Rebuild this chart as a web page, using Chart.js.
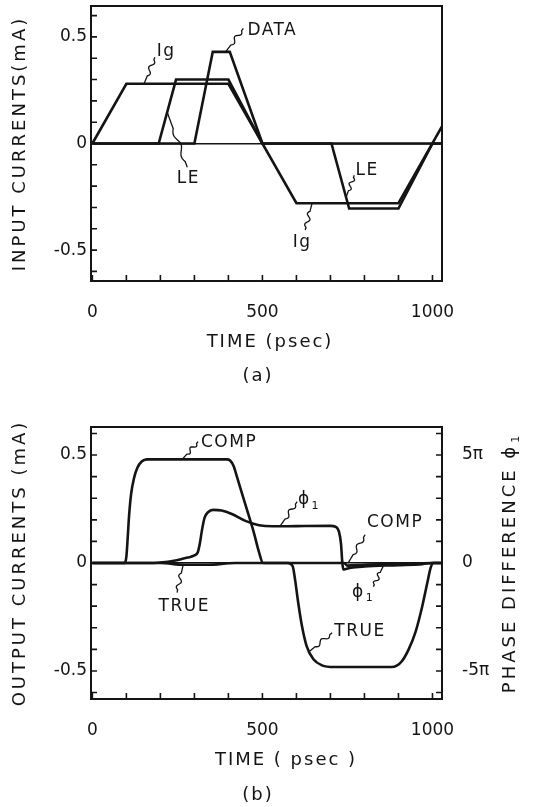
<!DOCTYPE html>
<html>
<head>
<meta charset="utf-8">
<script src="https://cdn.jsdelivr.net/npm/chart.js@4.4.0/dist/chart.umd.min.js"></script>
<style>
  html, body { margin: 0; padding: 0; background: #fff; }
  #wrap { position: relative; width: 554px; height: 807px; }
  canvas { position: absolute; left: 0; }
  #c1 { top: 0; }
  #c2 { top: 400px; }
</style>
</head>
<body>
<div id="wrap">
  <canvas id="c1" width="554" height="400"></canvas>
  <canvas id="c2" width="554" height="407"></canvas>
</div>
<script>
// ── DATA ─────────────────────────────────────────────
// (a) input currents (mA) vs time (psec)
const igT   = [0, 100, 400, 600, 900, 1028];
const igV   = [0, 0.28, 0.28, -0.28, -0.28, 0.08];
const leT   = [0, 195, 246, 400, 500, 703, 755, 900, 1000, 1028];
const leV   = [0, 0, 0.30, 0.30, 0, 0, -0.305, -0.305, 0, 0];
const dataT = [0, 300, 354, 404, 500, 1028];
const dataV = [0, 0, 0.43, 0.43, 0, 0];

// (b) output currents (mA) and phase difference (units of pi)
const compT = [0, 95, 100, 104, 108, 114, 122, 132, 145, 160, 300, 395, 405, 415, 425, 450, 475, 490, 502, 740, 750, 800, 900, 1000, 1030];
const compV = [0, 0, 0.03, 0.12, 0.22, 0.32, 0.39, 0.44, 0.47, 0.48, 0.48, 0.48, 0.475, 0.45, 0.40, 0.27, 0.14, 0.05, 0, 0, -0.012, -0.008, -0.004, 0, 0];
const trueT = [0, 200, 270, 340, 420, 575, 589, 596, 604, 616, 630, 650, 675, 710, 880, 895, 910, 930, 950, 970, 985, 995, 1003, 1030];
const trueV = [0, 0, -0.008, -0.008, 0, 0, -0.015, -0.077, -0.17, -0.29, -0.385, -0.446, -0.474, -0.482, -0.482, -0.475, -0.455, -0.40, -0.32, -0.20, -0.09, -0.02, 0, 0];
const phiT  = [0, 180, 240, 280, 300, 310, 316, 322, 330, 340, 355, 380, 410, 450, 490, 530, 600, 700, 715, 725, 731, 735, 738, 745, 760, 800, 900, 970, 1000, 1030];
const phiV  = [0, 0, 0.1, 0.25, 0.35, 0.5, 0.9, 1.5, 2.1, 2.35, 2.46, 2.43, 2.27, 1.95, 1.75, 1.7, 1.71, 1.72, 1.68, 1.45, 0.9, 0, -0.3, -0.28, -0.22, -0.16, -0.1, -0.05, 0, 0];

// axes
const xTicks  = [0, 100, 200, 300, 400, 500, 600, 700, 800, 900, 1000];
const xLabels = { 0: '0', 500: '500', 1000: '1000' };
const yTicks  = [-0.6, -0.5, -0.4, -0.3, -0.2, -0.1, 0, 0.1, 0.2, 0.3, 0.4, 0.5, 0.6];
const yLabels = { '-0.5': '-0.5', '0': '0', '0.5': '0.5' };
const pTicks  = [-6, -5, -4, -3, -2, -1, 0, 1, 2, 3, 4, 5, 6];
const pLabels = { '-5': '-5π', '0': '0', '5': '5π' };

// curve labels: text, [time, value] of text centre, leader from / to
const notesA = [
  { text: 'Ig',   at: [217, 0.433],  from: [152, 0.28],   to: [184, 0.405] },
  { text: 'DATA', at: [529, 0.531],  from: [392, 0.43],   to: [444, 0.54] },
  { text: 'LE',   at: [282, -0.163], from: [220, 0.147],  to: [279, -0.111] },
  { text: 'LE',   at: [808, -0.125], from: [746, -0.252], to: [770, -0.149] },
  { text: 'Ig',   at: [617, -0.463], from: [646, -0.28],  to: [626, -0.406] }
];
const notesB = [
  { text: 'COMP', at: [402, 0.557],  from: [264, 0.48],   to: [311, 0.562] },
  { text: 'ϕ', sub: '1', at: [637, 0.293], from: [552, 0.171], to: [602, 0.284] },
  { text: 'COMP', at: [890, 0.187],  from: [752, 0.0],    to: [802, 0.131] },
  { text: 'ϕ', sub: '1', at: [796, -0.137], from: [855, -0.015], to: [826, -0.11] },
  { text: 'TRUE', at: [270, -0.202], from: [267, -0.008], to: [249, -0.137] },
  { text: 'TRUE', at: [787, -0.318], from: [634, -0.415], to: [705, -0.323] }
];

const INK = '#141414';
const FONT = '"DejaVu Sans", sans-serif';
Chart.defaults.font.family = FONT;
Chart.defaults.color = INK;

const pts = (ts, vs) => ts.map((t, i) => ({ x: t, y: vs[i] }));
const line = (data, extra) => Object.assign({
  data, borderColor: INK, borderWidth: 2.6, pointRadius: 0, fill: false, tension: 0
}, extra || {});

// text with optional subscript, centred at x,y
function label(ctx, text, sub, x, y, size, spacing) {
  ctx.font = size + 'px ' + FONT;
  ctx.letterSpacing = spacing + 'px';
  const w = ctx.measureText(text).width;
  let sw = 0;
  if (sub) { ctx.font = Math.round(size * 0.62) + 'px ' + FONT; sw = ctx.measureText(sub).width + 1; }
  let x0 = x - (w + sw) / 2;
  ctx.textAlign = 'left';
  ctx.textBaseline = 'middle';
  ctx.font = size + 'px ' + FONT;
  ctx.fillText(text, x0, y);
  if (sub) {
    ctx.font = Math.round(size * 0.62) + 'px ' + FONT;
    ctx.fillText(sub, x0 + w + 1, y + size * 0.35);
  }
}

function squiggle(ctx, x0, y0, x1, y1) {
  const dx = x1 - x0, dy = y1 - y0, len = Math.hypot(dx, dy);
  const nx = -dy / len, ny = dx / len;
  ctx.beginPath();
  ctx.moveTo(x0, y0);
  for (let i = 1; i <= 30; i++) {
    const s = i / 30;
    const amp = (s > 0.3 && s < 0.9) ? 2 * Math.sin((s - 0.3) / 0.6 * Math.PI * 3) : 0;
    ctx.lineTo(x0 + dx * s + nx * amp, y0 + dy * s + ny * amp);
  }
  ctx.stroke();
}

// frame, inward ticks, titles, curve labels
const decor = {
  id: 'decor',
  afterDatasetsDraw(chart, args, o) {
    const { ctx, chartArea: a, scales } = chart;
    const xs = scales.x, ys = scales.y;
    ctx.save();
    ctx.strokeStyle = INK;
    ctx.fillStyle = INK;
    ctx.lineWidth = 2;
    ctx.strokeRect(a.left, a.top, a.right - a.left, a.bottom - a.top);

    ctx.lineWidth = 1.6;
    ctx.beginPath();
    xs.ticks.forEach(t => {
      const px = xs.getPixelForValue(t.value);
      ctx.moveTo(px, a.bottom); ctx.lineTo(px, a.bottom - 6);
    });
    ys.ticks.forEach(t => {
      const py = ys.getPixelForValue(t.value);
      ctx.moveTo(a.left, py); ctx.lineTo(a.left + 6, py);
      if (o.rightTicks) { ctx.moveTo(a.right, py); ctx.lineTo(a.right - 6, py); }
    });
    ctx.stroke();

    const mid = (a.top + a.bottom) / 2;
    ctx.save();
    ctx.translate(20, mid);
    ctx.rotate(-Math.PI / 2);
    label(ctx, o.yTitle, null, 0, 0, 18, 3);
    ctx.restore();
    if (o.y2Title) {
      ctx.save();
      ctx.translate(510, mid);
      ctx.rotate(-Math.PI / 2);
      label(ctx, o.y2Title, '1', 0, 0, 18, 3);
      ctx.restore();
    }
    label(ctx, o.xTitle, null, o.xTitleAt[0], o.xTitleAt[1], 18, 2);
    label(ctx, o.panel, null, o.panelAt[0], o.panelAt[1], 18, 2);

    ctx.lineWidth = 1.3;
    o.notes.forEach(n => {
      squiggle(ctx, xs.getPixelForValue(n.from[0]), ys.getPixelForValue(n.from[1]),
                    xs.getPixelForValue(n.to[0]), ys.getPixelForValue(n.to[1]));
      label(ctx, n.text, n.sub, xs.getPixelForValue(n.at[0]), ys.getPixelForValue(n.at[1]), 17, 1.5);
    });
    ctx.restore();
  }
};

const xScale = (h) => ({
  type: 'linear', min: -4, max: 1028,
  afterBuildTicks: s => { s.ticks = xTicks.map(v => ({ value: v })); },
  afterFit: s => { s.height = h; s.paddingLeft = 0; s.paddingRight = 0; },
  grid: { display: false },
  border: { display: false },
  ticks: { autoSkip: false, maxRotation: 0, padding: 13, font: { size: 17 }, callback: v => xLabels[v] || '' }
});
const yScale = (lim) => ({
  type: 'linear', position: 'left', min: -lim, max: lim,
  afterBuildTicks: s => { s.ticks = yTicks.map(v => ({ value: v })); },
  afterFit: s => { s.width = 91; s.paddingTop = 0; s.paddingBottom = 0; },
  grid: { drawTicks: false, lineWidth: 1.5, color: c => (c.tick && c.tick.value === 0) ? INK : 'rgba(0,0,0,0)' },
  border: { display: false },
  ticks: { autoSkip: false, padding: 4, font: { size: 17 }, callback: v => yLabels[String(v)] || '' }
});

// ── (a) INPUT CURRENTS ───────────────────────────────
new Chart(document.getElementById('c1'), {
  type: 'line',
  data: {
    datasets: [
      line(pts(igT, igV)),
      line(pts(leT, leV)),
      line(pts(dataT, dataV))
    ]
  },
  options: {
    responsive: false,
    animation: false,
    layout: { padding: { left: 0, right: 112, top: 6, bottom: 0 } },
    plugins: {
      legend: { display: false },
      tooltip: { enabled: false },
      decor: {
        yTitle: 'INPUT CURRENTS(mA)', xTitle: 'TIME (psec)', xTitleAt: [270, 342],
        panel: '(a)', panelAt: [258, 376], notes: notesA, rightTicks: false
      }
    },
    scales: { x: xScale(119), y: yScale(0.645) }
  },
  plugins: [decor]
});

// ── (b) OUTPUT CURRENTS / PHASE ──────────────────────
new Chart(document.getElementById('c2'), {
  type: 'line',
  data: {
    datasets: [
      line(pts(compT, compV), { cubicInterpolationMode: 'monotone' }),
      line(pts(trueT, trueV), { cubicInterpolationMode: 'monotone' }),
      line(pts(phiT, phiV), { cubicInterpolationMode: 'monotone', yAxisID: 'y2' })
    ]
  },
  options: {
    responsive: false,
    animation: false,
    layout: { padding: { left: 0, right: 0, top: 27, bottom: 0 } },
    plugins: {
      legend: { display: false },
      tooltip: { enabled: false },
      decor: {
        yTitle: 'OUTPUT CURRENTS (mA)', y2Title: 'PHASE DIFFERENCE ϕ', xTitle: 'TIME ( psec )', xTitleAt: [286, 360],
        panel: '(b)', panelAt: [258, 395], notes: notesB, rightTicks: true
      }
    },
    scales: {
      x: xScale(108),
      y: yScale(0.63),
      y2: {
        type: 'linear', position: 'right', min: -6.3, max: 6.3,
        afterBuildTicks: s => { s.ticks = pTicks.map(v => ({ value: v })); },
        afterFit: s => { s.width = 112; s.paddingTop = 0; s.paddingBottom = 0; },
        grid: { display: false },
        border: { display: false },
        ticks: { autoSkip: false, padding: 12, font: { size: 17 }, callback: v => pLabels[String(v)] || '' }
      }
    }
  },
  plugins: [decor]
});
</script>
</body>
</html>
